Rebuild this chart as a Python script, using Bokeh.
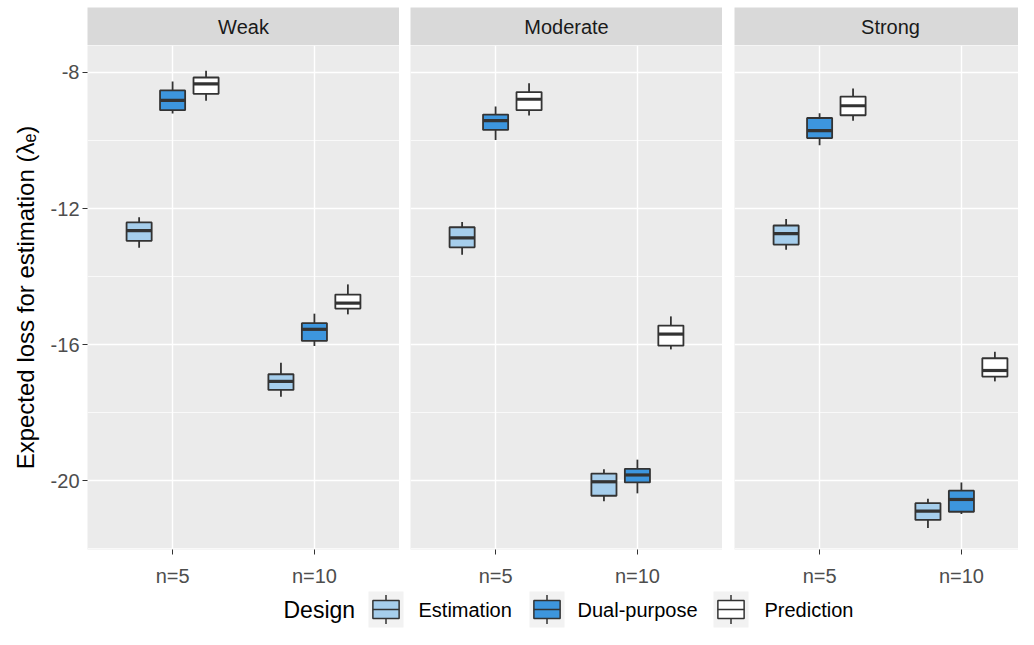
import pandas as pd
from bokeh.plotting import figure
from bokeh.models import (ColumnDataSource, Range1d, FixedTicker, Grid, Label, LinearAxis)
from bokeh.layouts import column, row
from bokeh.transform import dodge
from bokeh.core.properties import value
from bokeh.embed import file_html
from bokeh.resources import INLINE

# ---------------- data ----------------
strengths = ["Weak", "Moderate", "Strong"]
sample_sizes = ["n=5", "n=10"]
designs = ["Estimation", "Dual-purpose", "Prediction"]

# order: strength -> sample size -> design
whisker_high = [-12.26, -8.27, -7.95, -16.53, -15.09, -14.23,
                -12.40, -9.00, -8.32, -19.66, -19.38, -15.17,
                -12.31, -9.20, -8.47, -20.53, -20.05, -16.21]
box_high = [-12.41, -8.53, -8.15, -16.87, -15.37, -14.53,
            -12.55, -9.24, -8.58, -19.79, -19.65, -15.44,
            -12.50, -9.34, -8.71, -20.66, -20.29, -16.40]
medians = [-12.65, -8.82, -8.34, -17.08, -15.55, -14.78,
           -12.86, -9.42, -8.79, -20.03, -19.83, -15.69,
           -12.74, -9.71, -8.98, -20.89, -20.55, -16.76]
box_low = [-12.95, -9.11, -8.63, -17.33, -15.89, -14.94,
           -13.14, -9.69, -9.11, -20.44, -20.05, -16.03,
           -13.06, -9.93, -9.26, -21.15, -20.91, -16.94]
whisker_low = [-13.15, -9.21, -8.83, -17.53, -16.04, -15.11,
               -13.36, -9.99, -9.27, -20.60, -20.37, -16.14,
               -13.21, -10.14, -9.42, -21.39, -20.98, -17.08]

y_ticks = [-8, -12, -16, -20]
y_tick_labels = ["-8", "-12", "-16", "-20"]
y_minor_ticks = [-10, -14, -18, -22]
y_label = "Expected loss for estimation (λₑ)"
legend_title = "Design"

# ---------------- styling ----------------
FONT = "Liberation Sans"
fills = {"Estimation": "#A6CEEC", "Dual-purpose": "#3D96DE", "Prediction": "#FFFFFF"}
offsets = {"Estimation": -0.236, "Dual-purpose": 0.0, "Prediction": 0.236}
BOX_W = 0.177
LINE = "#333333"
LW_BOX = 1.8
LW_MED = 3.2
SMALL = "20px"

rows = []
i = 0
for s in strengths:
    for k, n in enumerate(sample_sizes):
        for d in designs:
            rows.append(dict(strength=s, n=n, design=d, xpos=k + 1,
                             whisker_high=whisker_high[i], box_high=box_high[i],
                             median=medians[i], box_low=box_low[i],
                             whisker_low=whisker_low[i]))
            i += 1
df = pd.DataFrame(rows)

Y_LO, Y_HI = -22.02, -7.21
TOP_GAP = 7
STRIP_H = 38
PANEL_H = 506
BOTTOM = 38
X_LO, X_HI = 0.4, 2.6
FULL_W = 312

# (figure width, left border, frame width)
specs = [(399, 87, 312), (323, 11, 312), (296, 12, 284)]

strips, panels = [], []
for idx, s in enumerate(strengths):
    W, ml, fw = specs[idx]
    x_end = X_LO + (X_HI - X_LO) * fw / FULL_W
    xr = Range1d(X_LO, x_end)

    # strip (facet header)
    st = figure(width=W, height=TOP_GAP + STRIP_H, x_range=xr, y_range=Range1d(0, 1),
                x_axis_type=None, y_axis_type=None, output_backend="svg",
                toolbar_location=None, title=None, min_border_left=ml,
                min_border_right=0, min_border_top=TOP_GAP, min_border_bottom=0)
    st.background_fill_color = "#D9D9D9"
    st.border_fill_color = "white"
    st.outline_line_color = None
    st.add_layout(Label(x=(X_LO + X_HI) / 2, y=0.5, text=s, text_align="center",
                        text_baseline="middle", text_font=FONT, text_font_size=SMALL,
                        text_color="#1A1A1A"))
    strips.append(st)

    # panel
    p = figure(width=W, height=PANEL_H + BOTTOM, x_range=xr, y_range=Range1d(Y_LO, Y_HI),
               x_axis_type=None, y_axis_type=None, output_backend="svg",
               toolbar_location=None, title=None, min_border_left=ml,
               min_border_right=0, min_border_top=0, min_border_bottom=BOTTOM)
    p.background_fill_color = "#EBEBEB"
    p.border_fill_color = "white"
    p.outline_line_color = None

    xt = FixedTicker(ticks=[k + 1 for k in range(len(sample_sizes))])
    yt = FixedTicker(ticks=y_ticks, minor_ticks=y_minor_ticks)
    p.add_layout(Grid(dimension=0, ticker=xt, grid_line_color="white", grid_line_width=1.4))
    p.add_layout(Grid(dimension=1, ticker=yt, grid_line_color="white", grid_line_width=1.4,
                      minor_grid_line_color="white", minor_grid_line_width=0.7))

    xaxis = LinearAxis(ticker=xt,
                       major_label_overrides={k + 1: n for k, n in enumerate(sample_sizes)})
    xaxis.axis_line_color = None
    xaxis.major_tick_line_color = LINE
    xaxis.major_tick_out = 5
    xaxis.major_tick_in = 0
    xaxis.minor_tick_line_color = None
    xaxis.major_label_standoff = 10
    xaxis.major_label_text_font = FONT
    xaxis.major_label_text_font_size = SMALL
    xaxis.major_label_text_color = "#4D4D4D"
    p.add_layout(xaxis, "below")

    if idx == 0:
        yaxis = LinearAxis(ticker=yt, axis_label=y_label,
                           major_label_overrides=dict(zip(y_ticks, y_tick_labels)))
        yaxis.axis_line_color = None
        yaxis.major_tick_line_color = LINE
        yaxis.major_tick_out = 5
        yaxis.major_tick_in = 0
        yaxis.minor_tick_line_color = None
        yaxis.major_label_standoff = 3
        yaxis.major_label_text_font = FONT
        yaxis.major_label_text_font_size = SMALL
        yaxis.major_label_text_color = "#4D4D4D"
        yaxis.axis_label_text_font = FONT
        yaxis.axis_label_text_font_size = "24px"
        yaxis.axis_label_text_font_style = "normal"
        yaxis.axis_label_text_color = "black"
        yaxis.axis_label_standoff = 9
        p.add_layout(yaxis, "left")

    for d in designs:
        src = ColumnDataSource(df[(df.strength == s) & (df.design == d)])
        off = offsets[d]
        p.segment(x0=dodge("xpos", off), y0="box_high", x1=dodge("xpos", off),
                  y1="whisker_high", source=src, line_color=LINE, line_width=LW_BOX)
        p.segment(x0=dodge("xpos", off), y0="box_low", x1=dodge("xpos", off),
                  y1="whisker_low", source=src, line_color=LINE, line_width=LW_BOX)
        p.vbar(x=dodge("xpos", off), width=BOX_W, top="box_high", bottom="box_low",
               source=src, fill_color=fills[d], line_color=LINE, line_width=LW_BOX)
        p.segment(x0=dodge("xpos", off - BOX_W / 2), y0="median",
                  x1=dodge("xpos", off + BOX_W / 2), y1="median",
                  source=src, line_color=LINE, line_width=LW_MED)
    panels.append(p)

# ---------------- legend ----------------
LW, LH = 1018, 40
leg = figure(width=LW, height=LH, x_range=Range1d(0, LW), y_range=Range1d(0, LH),
             x_axis_type=None, y_axis_type=None, output_backend="svg",
             toolbar_location=None, title=None, min_border=0)
leg.outline_line_color = None
leg.background_fill_color = "white"
leg.border_fill_color = "white"

key_left = [368, 529, 713]
label_left = [418, 577, 764]
KW, KH = 35, 36
kb = 2  # key bottom
kcx = [k + KW / 2 for k in key_left]
leg.quad(left=key_left, right=[k + KW for k in key_left], bottom=[kb] * 3,
         top=[kb + KH] * 3, fill_color="#F2F2F2", line_color=None)
leg.segment(x0=kcx, x1=kcx, y0=[kb + 0.1 * KH] * 3, y1=[kb + 0.9 * KH] * 3,
            line_color=LINE, line_width=1.5)
leg.quad(left=[k + 0.125 * KW for k in key_left], right=[k + 0.875 * KW for k in key_left],
         bottom=[kb + 0.25 * KH] * 3, top=[kb + 0.75 * KH] * 3,
         fill_color=[fills[d] for d in designs], line_color=LINE, line_width=1.5)
leg.segment(x0=[k + 0.125 * KW for k in key_left], x1=[k + 0.875 * KW for k in key_left],
            y0=[kb + 0.5 * KH] * 3, y1=[kb + 0.5 * KH] * 3, line_color=LINE, line_width=1.5)
leg.text(x=label_left, y=[kb + KH / 2] * 3, text=designs, text_align="left",
         text_baseline="middle", text_font=value(FONT), text_font_size=SMALL,
         text_color="black")
leg.text(x=[283], y=[kb + KH / 2], text=[legend_title], text_align="left",
         text_baseline="middle", text_font=value(FONT), text_font_size="23px",
         text_color="black")

layout = column(row(*strips, spacing=0), row(*panels, spacing=0), leg, spacing=0)
open("out.html", "w").write(file_html(layout, INLINE))
